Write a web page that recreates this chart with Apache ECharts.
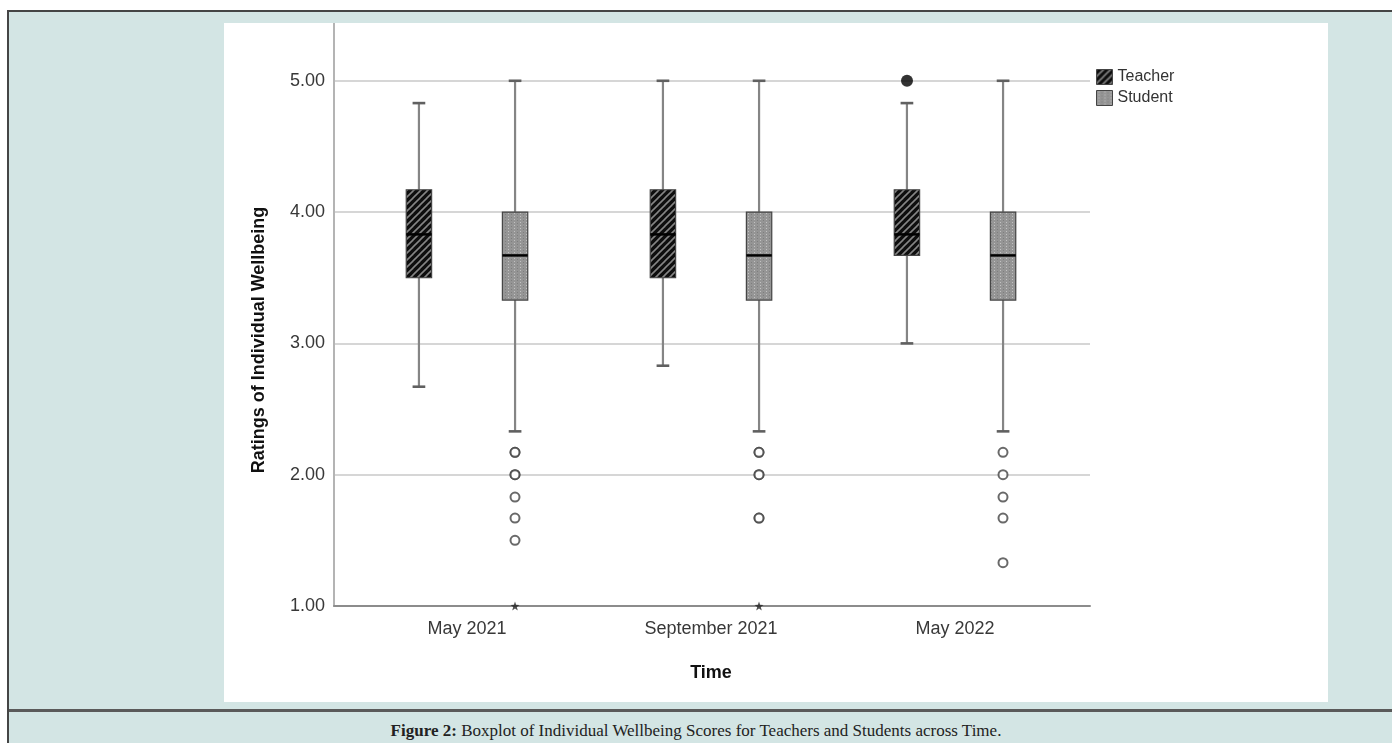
<!DOCTYPE html>
<html>
<head>
<meta charset="utf-8">
<script src="https://cdn.jsdelivr.net/npm/echarts@6.0.0/dist/echarts.min.js"></script>
<style>
  html, body { margin: 0; padding: 0; background: #ffffff; }
  #page { position: relative; width: 1392px; height: 743px; overflow: hidden; background: #ffffff; }
  #frame { position: absolute; left: 7px; top: 10px; width: 1400px; height: 740px;
           background: #d3e5e4; border-left: 2px solid #454545; border-top: 2px solid #454545; }
  #divider { position: absolute; left: 9px; top: 709px; width: 1400px; height: 3px; background: #5a5a5a; }
  #panel { position: absolute; left: 224px; top: 23px; width: 1104px; height: 679px; background: #ffffff; }
  #chart { position: absolute; left: 0; top: 0; width: 1104px; height: 679px; }
  #caption { position: absolute; left: 0; top: 719px; width: 1392px; text-align: center;
             font-family: "Liberation Serif", "DejaVu Serif", serif; font-size: 17px; color: #222; line-height: 24px; }
</style>
</head>
<body>
<div id="page">
  <div id="frame"></div>
  <div id="divider"></div>
  <div id="panel"><div id="chart"></div></div>
  <div id="caption"><b>Figure 2:</b> Boxplot of Individual Wellbeing Scores for Teachers and Students across Time.</div>
</div>
<script>
// ---- data ----
const categories = ['May 2021', 'September 2021', 'May 2022'];
const seriesNames = ['Teacher', 'Student'];
// [min whisker, Q1, median, Q3, max whisker]
const teacherBox = [
  [2.67, 3.50, 3.83, 4.17, 4.83],
  [2.83, 3.50, 3.83, 4.17, 5.00],
  [3.00, 3.67, 3.83, 4.17, 4.83]
];
const studentBox = [
  [2.33, 3.33, 3.67, 4.00, 5.00],
  [2.33, 3.33, 3.67, 4.00, 5.00],
  [2.33, 3.33, 3.67, 4.00, 5.00]
];
// outliers: [category index, value]
const teacherOutliers = [[2, 5.00]];
const studentOutliers = [
  [0, 2.17], [0, 2.17], [0, 2.00], [0, 2.00], [0, 1.83], [0, 1.67], [0, 1.50],
  [1, 2.17], [1, 2.17], [1, 2.00], [1, 2.00], [1, 1.67], [1, 1.67],
  [2, 2.17], [2, 2.00], [2, 1.83], [2, 1.67], [2, 1.33]
];
const studentExtremes = [[0, 1.00], [1, 1.00]];
const yTicks = [1, 2, 3, 4, 5];
const yMin = 1, yMax = 5.44;

// ---- patterns ----
function hatchPattern() {
  const c = document.createElement('canvas');
  c.width = 7; c.height = 7;
  const g = c.getContext('2d');
  g.fillStyle = '#0e0e0e'; g.fillRect(0, 0, 7, 7);
  g.strokeStyle = '#858585'; g.lineWidth = 1.6;
  for (const x0 of [-7, 0, 7]) {
    g.beginPath(); g.moveTo(x0 - 1, 8); g.lineTo(x0 + 8, -1); g.stroke();
  }
  return { image: c, repeat: 'repeat' };
}
function dotPattern() {
  const c = document.createElement('canvas');
  c.width = 6; c.height = 3;
  const g = c.getContext('2d');
  g.fillStyle = '#959595'; g.fillRect(0, 0, 6, 3);
  g.fillStyle = '#c2c2c2'; g.fillRect(2, 1, 1, 1);
  g.fillStyle = '#7e7e7e'; g.fillRect(5, 2, 1, 1);
  return { image: c, repeat: 'repeat' };
}
const teacherFill = hatchPattern();
const studentFill = dotPattern();

const OFFSET = 0.197;   // fraction of category band
const HALF = 0.052;     // box half width (fraction of band)
const CAP = 0.026;      // cap half width

function boxRenderer(side, fill) {
  return function (params, api) {
    const cat = api.value(0);
    const band = api.size([1, 0])[0];
    const cx = api.coord([cat, api.value(3)])[0] + side * OFFSET * band;
    const y = i => api.coord([cat, api.value(i)])[1];
    const yLo = y(1), yQ1 = y(2), yMed = y(3), yQ3 = y(4), yHi = y(5);
    const hw = HALF * band, cw = CAP * band;
    const wStyle = { stroke: '#858585', lineWidth: 2.2 };
    const cStyle = { stroke: '#606060', lineWidth: 2.6 };
    return {
      type: 'group',
      children: [
        { type: 'line', shape: { x1: cx, y1: yQ1, x2: cx, y2: yLo }, style: wStyle },
        { type: 'line', shape: { x1: cx, y1: yQ3, x2: cx, y2: yHi }, style: wStyle },
        { type: 'line', shape: { x1: cx - cw, y1: yLo, x2: cx + cw, y2: yLo }, style: cStyle },
        { type: 'line', shape: { x1: cx - cw, y1: yHi, x2: cx + cw, y2: yHi }, style: cStyle },
        { type: 'rect', shape: { x: cx - hw, y: yQ3, width: 2 * hw, height: yQ1 - yQ3 },
          style: { fill: fill, stroke: '#444444', lineWidth: 1.2 } },
        { type: 'line', shape: { x1: cx - hw, y1: yMed, x2: cx + hw, y2: yMed },
          style: { stroke: '#000000', lineWidth: 2.5 } }
      ]
    };
  };
}

const chart = echarts.init(document.getElementById('chart'), null, { renderer: 'canvas' });
const font = '"Liberation Sans", Arial, sans-serif';

chart.setOption({
  animation: false,
  backgroundColor: '#ffffff',
  textStyle: { fontFamily: font },
  grid: [
    { left: 110, right: 238, top: 0, bottom: 96 },
    { left: 121, width: 732, top: 0, bottom: 96 }
  ],
  legend: {
    data: seriesNames,
    orient: 'vertical',
    left: 867, top: 41,
    icon: 'rect',
    itemWidth: 16, itemHeight: 15, itemGap: 5,
    textStyle: { fontFamily: font, fontSize: 16, color: '#333' },
    itemStyle: { borderColor: '#444', borderWidth: 1 }
  },
  xAxis: [
    { type: 'value', gridIndex: 0, min: 0, max: 1,
      axisLine: { show: true, onZero: false, lineStyle: { color: '#8c8c8c', width: 2 } },
      axisTick: { show: false }, axisLabel: { show: false }, splitLine: { show: false } },
    { type: 'category', gridIndex: 1, data: categories, boundaryGap: true,
      axisLine: { show: false }, axisTick: { show: false },
      axisLabel: { fontFamily: font, fontSize: 18, color: '#383838', margin: 14 },
      name: 'Time', nameLocation: 'middle', nameGap: 58,
      nameTextStyle: { fontFamily: font, fontSize: 18, fontWeight: 'bold', color: '#111' } }
  ],
  yAxis: [
    { type: 'value', gridIndex: 0, min: yMin, max: yMax, interval: 1,
      axisLine: { show: true, onZero: false, lineStyle: { color: '#b4b4b4', width: 2 } },
      axisTick: { show: false },
      axisLabel: { fontFamily: font, fontSize: 18, color: '#383838', margin: 9, showMaxLabel: false,
        formatter: v => (yTicks.indexOf(v) >= 0 ? v.toFixed(2) : '') },
      splitLine: { show: true, showMinLine: false, showMaxLine: false,
        lineStyle: { color: '#d6d6d6', width: 2 } } },
    { type: 'value', gridIndex: 1, min: yMin, max: yMax, interval: 1, show: false }
  ],
  graphic: [
    { type: 'text', x: 35, y: 317, rotation: Math.PI / 2,
      style: { text: 'Ratings of Individual Wellbeing', fontFamily: font, fontSize: 18, fontWeight: 'bold',
        fill: '#111', align: 'center', verticalAlign: 'middle' } }
  ],
  series: [
    { name: 'Teacher', type: 'custom', xAxisIndex: 1, yAxisIndex: 1,
      itemStyle: { color: teacherFill },
      encode: { x: 0, y: [1, 2, 3, 4, 5] },
      data: teacherBox.map((b, i) => [i].concat(b)),
      renderItem: boxRenderer(-1, teacherFill), z: 3 },
    { name: 'Student', type: 'custom', xAxisIndex: 1, yAxisIndex: 1,
      itemStyle: { color: studentFill },
      encode: { x: 0, y: [1, 2, 3, 4, 5] },
      data: studentBox.map((b, i) => [i].concat(b)),
      renderItem: boxRenderer(1, studentFill), z: 3 },
    { name: 'Teacher outliers', type: 'scatter', xAxisIndex: 1, yAxisIndex: 1,
      data: teacherOutliers, symbol: 'circle', symbolSize: 12, symbolOffset: [-48, 0],
      itemStyle: { color: '#000' }, z: 5 },
    { name: 'Student outliers', type: 'scatter', xAxisIndex: 1, yAxisIndex: 1,
      data: studentOutliers, symbol: 'circle', symbolSize: 9, symbolOffset: [48, 0],
      itemStyle: { color: '#ffffff', borderColor: '#444', borderWidth: 2 }, z: 5 },
    { name: 'Student extremes', type: 'scatter', xAxisIndex: 1, yAxisIndex: 1,
      data: studentExtremes,
      symbol: 'path://M0,-10 L2.35,-3.24 L9.51,-3.09 L3.8,1.24 L5.88,8.09 L0,4 L-5.88,8.09 L-3.8,1.24 L-9.51,-3.09 L-2.35,-3.24 Z',
      symbolSize: 9, symbolOffset: [48, 0], itemStyle: { color: '#222' }, z: 5 }
  ]
});
</script>
</body>
</html>
